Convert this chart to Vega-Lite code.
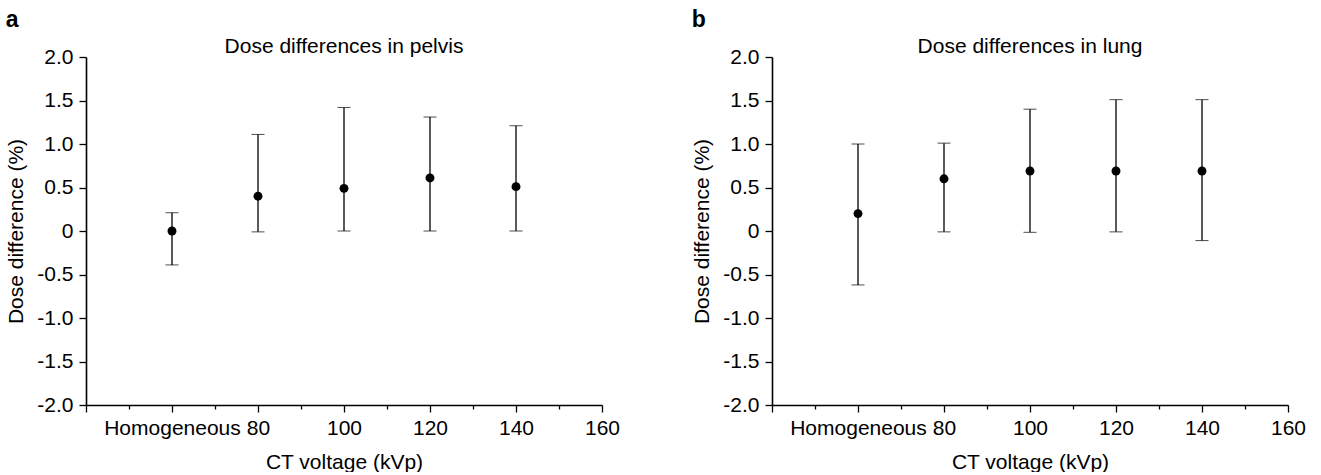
{
  "$schema": "https://vega.github.io/schema/vega-lite/v6.json",
  "padding": {"left": 5, "top": 9, "right": 5, "bottom": 0},
  "background": "white",
  "config": {
    "font": "Liberation Sans",
    "view": {"stroke": null},
    "title": {"font": "Liberation Sans", "fontSize": 21, "fontWeight": "normal", "color": "black", "offset": -11},
    "axis": {
      "grid": false,
      "domainColor": "black",
      "domainWidth": 1.6,
      "tickColor": "black",
      "tickWidth": 1.3,
      "labelColor": "black",
      "labelFont": "Liberation Sans",
      "labelFontSize": 21,
      "titleFont": "Liberation Sans",
      "titleFontSize": 21,
      "titleFontWeight": "normal",
      "titleColor": "black",
      "labelOverlap": false,
      "labelFlush": false,
      "labelBound": false
    }
  },
  "datasets": {
    "pelvis": [
      {"kvp": 60, "diff": 0.0, "lo": -0.39, "hi": 0.21},
      {"kvp": 80, "diff": 0.40, "lo": -0.01, "hi": 1.11},
      {"kvp": 100, "diff": 0.49, "lo": 0.0, "hi": 1.42},
      {"kvp": 120, "diff": 0.61, "lo": 0.0, "hi": 1.31},
      {"kvp": 140, "diff": 0.51, "lo": 0.0, "hi": 1.21}
    ],
    "lung": [
      {"kvp": 60, "diff": 0.20, "lo": -0.62, "hi": 1.0},
      {"kvp": 80, "diff": 0.60, "lo": -0.01, "hi": 1.01},
      {"kvp": 100, "diff": 0.69, "lo": -0.015, "hi": 1.40},
      {"kvp": 120, "diff": 0.69, "lo": -0.01, "hi": 1.51},
      {"kvp": 140, "diff": 0.69, "lo": -0.11, "hi": 1.51}
    ]
  },
  "spacing": 71,
  "hconcat": [
    {
      "title": {"text": "a", "anchor": "start", "fontWeight": "bold", "fontSize": 23, "frame": "bounds", "offset": 4},
      "vconcat": [
        {
          "title": {"text": "Dose differences in pelvis", "anchor": "middle"},
          "width": 516,
          "height": 348,
          "data": {"name": "pelvis"},
          "encoding": {
            "x": {
              "field": "kvp", "type": "quantitative",
              "scale": {"domain": [40, 160], "nice": false, "zero": false},
              "axis": {
                "title": "CT voltage (kVp)",
                "values": [40, 50, 60, 70, 80, 90, 100, 110, 120, 130, 140, 150, 160],
                "labelExpr": "datum.value == 60 ? 'Homogeneous' : ((datum.value % 20 == 0 && datum.value > 60) ? datum.label : '')",
                "tickSize": {"condition": {"test": "datum.value % 20 == 0", "value": 7}, "value": 4},
                "labelPadding": 5,
                "titlePadding": 13
              }
            }
          },
          "layer": [
            {
              "mark": {"type": "errorbar", "ticks": {"size": 13, "color": "black", "strokeWidth": 1.5}, "rule": {"color": "black", "strokeWidth": 1.3}},
              "encoding": {
                "y": {
                  "field": "lo", "type": "quantitative",
                  "scale": {"domain": [-2, 2], "nice": false},
                  "axis": {
                    "title": "Dose difference (%)",
                    "values": [-2, -1.75, -1.5, -1.25, -1, -0.75, -0.5, -0.25, 0, 0.25, 0.5, 0.75, 1, 1.25, 1.5, 1.75, 2],
                    "labelExpr": "abs(datum.value*2 - round(datum.value*2)) > 0.01 ? '' : (datum.value == 0 ? '0' : (datum.value < 0 ? '-' + format(-datum.value, '.1f') : format(datum.value, '.1f')))",
                    "tickSize": {"condition": {"test": "abs(datum.value*2 - round(datum.value*2)) < 0.01", "value": 7}, "value": 4},
                    "labelPadding": 6,
                    "titlePadding": 10
                  }
                },
                "y2": {"field": "hi"}
              }
            },
            {
              "mark": {"type": "point", "filled": true, "size": 80, "color": "black", "opacity": 1},
              "encoding": {
                "y": {"field": "diff", "type": "quantitative"}
              }
            }
          ]
        }
      ]
    },
    {
      "title": {"text": "b", "anchor": "start", "fontWeight": "bold", "fontSize": 23, "frame": "bounds", "offset": 4},
      "vconcat": [
        {
          "title": {"text": "Dose differences in lung", "anchor": "middle"},
          "width": 516,
          "height": 348,
          "data": {"name": "lung"},
          "encoding": {
            "x": {
              "field": "kvp", "type": "quantitative",
              "scale": {"domain": [40, 160], "nice": false, "zero": false},
              "axis": {
                "title": "CT voltage (kVp)",
                "values": [40, 50, 60, 70, 80, 90, 100, 110, 120, 130, 140, 150, 160],
                "labelExpr": "datum.value == 60 ? 'Homogeneous' : ((datum.value % 20 == 0 && datum.value > 60) ? datum.label : '')",
                "tickSize": {"condition": {"test": "datum.value % 20 == 0", "value": 7}, "value": 4},
                "labelPadding": 5,
                "titlePadding": 13
              }
            }
          },
          "layer": [
            {
              "mark": {"type": "errorbar", "ticks": {"size": 13, "color": "black", "strokeWidth": 1.5}, "rule": {"color": "black", "strokeWidth": 1.3}},
              "encoding": {
                "y": {
                  "field": "lo", "type": "quantitative",
                  "scale": {"domain": [-2, 2], "nice": false},
                  "axis": {
                    "title": "Dose difference (%)",
                    "values": [-2, -1.75, -1.5, -1.25, -1, -0.75, -0.5, -0.25, 0, 0.25, 0.5, 0.75, 1, 1.25, 1.5, 1.75, 2],
                    "labelExpr": "abs(datum.value*2 - round(datum.value*2)) > 0.01 ? '' : (datum.value == 0 ? '0' : (datum.value < 0 ? '-' + format(-datum.value, '.1f') : format(datum.value, '.1f')))",
                    "tickSize": {"condition": {"test": "abs(datum.value*2 - round(datum.value*2)) < 0.01", "value": 7}, "value": 4},
                    "labelPadding": 6,
                    "titlePadding": 10
                  }
                },
                "y2": {"field": "hi"}
              }
            },
            {
              "mark": {"type": "point", "filled": true, "size": 80, "color": "black", "opacity": 1},
              "encoding": {
                "y": {"field": "diff", "type": "quantitative"}
              }
            }
          ]
        }
      ]
    }
  ]
}
